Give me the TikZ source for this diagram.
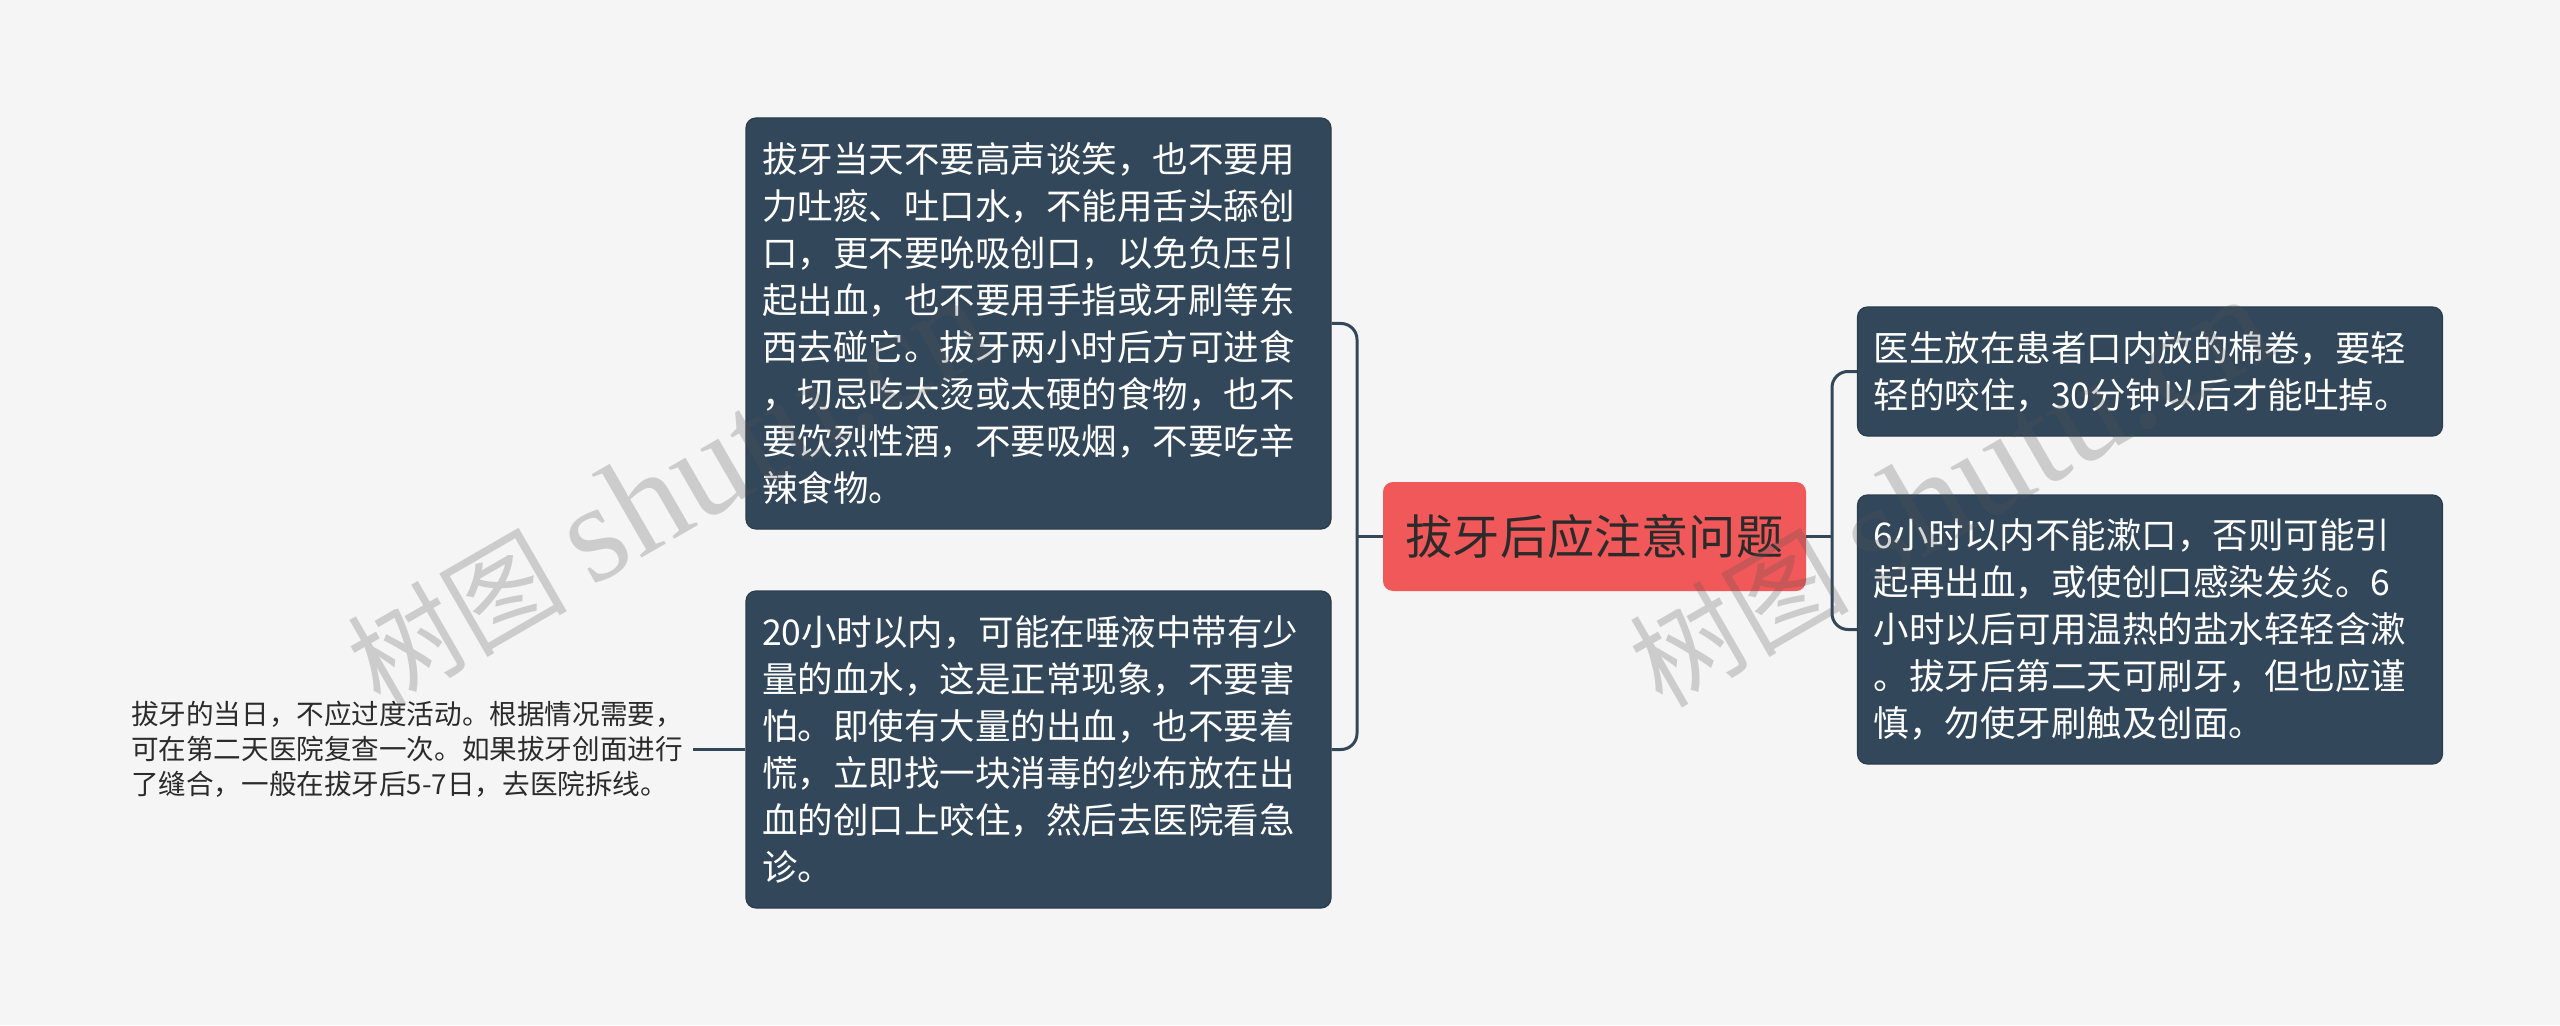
\documentclass[tikz,border=0pt]{standalone}
\usepackage{fontspec}
\setmainfont{Noto Sans CJK SC}
\newfontfamily\wmserif{Liberation Serif}
\usepackage{tikz}
\usetikzlibrary{positioning}

\definecolor{bgcol}{HTML}{F5F5F5}
\definecolor{boxcol}{HTML}{33475B}
\definecolor{rootcol}{HTML}{F05859}
\definecolor{inkcol}{HTML}{2B2B2B}
\definecolor{wmcol}{HTML}{555555}

\tikzset{
	topic/.style={draw=boxcol!85!black, line width=0.6pt, fill=boxcol, text=white,
		rounded corners=5pt, inner xsep=8pt, text width=276.5pt, align=left,
		font=\fontsize{17.75pt}{23.5pt}\selectfont},
	root/.style={fill=rootcol, text=inkcol, rounded corners=5pt,
		minimum width=211.5pt, minimum height=54.5pt,
		font=\fontsize{23.6pt}{28pt}\selectfont},
	leaf/.style={text=inkcol, inner xsep=4pt, text width=277pt, align=left,
		font=\fontsize{13.8pt}{17.5pt}\selectfont},
	link/.style={draw=boxcol, line width=1.5pt, rounded corners=8pt},
	wm/.style={text=wmcol, text opacity=0.25, rotate=30, anchor=base west,
		font=\fontsize{55pt}{60pt}\selectfont}
}

\begin{document}
\begin{tikzpicture}[x=0.5pt,y=0.5pt]
	\useasboundingbox[fill=bgcol] (0,0) rectangle (2560,1025);

	% central topic
	\node[root] (root) at (1594.5,488.5) {拔牙后应注意问题};

	% left branch
	\node[topic, minimum height=205.5pt] (tl) at (1038.5,701.5) {拔牙当天不要高声谈笑，也不要用\\力吐痰、吐口水，不能用舌头舔创\\口，更不要吮吸创口，以免负压引\\起出血，也不要用手指或牙刷等东\\西去碰它。拔牙两小时后方可进食\\，切忌吃太烫或太硬的食物，也不\\要饮烈性酒，不要吸烟，不要吃辛\\辣食物。};
	\node[topic, minimum height=158.5pt] (bl) at (1038.5,275.5) {20小时以内，可能在唾液中带有少\\量的血水，这是正常现象，不要害\\怕。即使有大量的出血，也不要着\\慌，立即找一块消毒的纱布放在出\\血的创口上咬住，然后去医院看急\\诊。};
	\node[leaf, left=26pt of bl] (blleaf) {拔牙的当日，不应过度活动。根据情况需要，\\可在第二天医院复查一次。如果拔牙创面进行\\了缝合，一般在拔牙后5-7日，去医院拆线。};

	% right branch
	\node[topic, minimum height=64.5pt] (rt) at (2150,653.5) {医生放在患者口内放的棉卷，要轻\\轻的咬住，30分钟以后才能吐掉。};
	\node[topic, minimum height=134.5pt] (rb) at (2150,395.5) {6小时以内不能漱口，否则可能引\\起再出血，或使创口感染发炎。6\\小时以后可用温热的盐水轻轻含漱\\。拔牙后第二天可刷牙，但也应谨\\慎，勿使牙刷触及创面。};

	% connectors
	\coordinate (ljoin) at (1357,488.5);
	\coordinate (rjoin) at (1832,488.5);
	\draw[link] (root.west) -- (ljoin);
	\draw[link] (tl.east) -| (ljoin) |- (bl.east);
	\draw[link] (root.east) -- (rjoin);
	\draw[link] (rt.west) -| (rjoin) |- (rb.west);
	\draw[link] (bl.west) -- (blleaf.east);

	% watermarks, laid over everything
	\node[wm] (wmleft) at (374,312) {树图 {\wmserif\fontsize{70pt}{72pt}\selectfont shutu.cn}};
	\node[wm] (wmright) at (1656,312) {树图 {\wmserif\fontsize{70pt}{72pt}\selectfont shutu.cn}};
\end{tikzpicture}
\end{document}
